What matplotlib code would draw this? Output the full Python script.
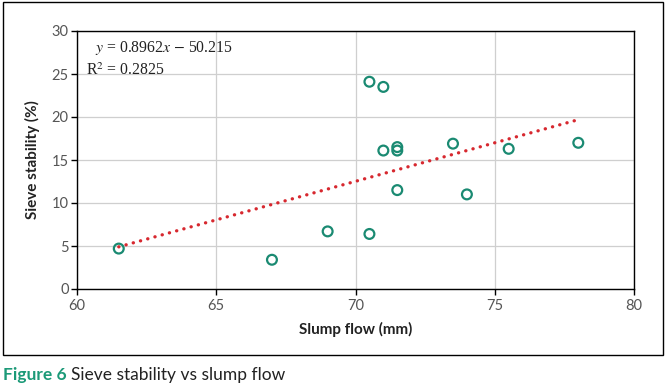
import matplotlib
matplotlib.use('Agg')
import matplotlib.pyplot as plt
import numpy as np
from matplotlib.patches import Rectangle

# data
slump_flow = [61.5, 67.0, 69.0, 70.5, 70.5, 71.0, 71.0, 71.5, 71.5, 71.5, 73.5, 74.0, 75.5, 78.0]
sieve_stab = [4.7, 3.4, 6.7, 6.4, 24.1, 23.5, 16.1, 16.5, 16.1, 11.5, 16.9, 11.0, 16.3, 17.0]
slope = 0.8962
intercept = -50.215
r2 = 0.2825
x_ticks = [60, 65, 70, 75, 80]
y_ticks = [0, 5, 10, 15, 20, 25, 30]

TEAL = '#1a8a72'
RED = '#d7282f'
GRID = '#cfcfcf'
TICK = '#555555'
SANS = ['Lato', 'DejaVu Sans']

plt.rcParams['mathtext.fontset'] = 'stix'

fig = plt.figure(figsize=(6.71, 3.90), dpi=100)

# outer frame round the chart
fig.patches.append(Rectangle((3/671, 1-355/390), 660/671, 353/390,
                             transform=fig.transFigure, fill=False,
                             edgecolor='black', linewidth=1.0))

ax = fig.add_axes([77/671, 1-289/390, 557/671, 258/390])

# trendline (dotted)
xs = np.array([min(slump_flow), max(slump_flow)])
ax.plot(xs, slope*xs + intercept, color=RED, linewidth=2.4,
        linestyle=(0, (0.05, 2.2)), dash_capstyle='round', zorder=3)

ax.scatter(slump_flow, sieve_stab, s=50, facecolors='none',
           edgecolors=TEAL, linewidths=1.6, zorder=4)

ax.set_xlim(60, 80)
ax.set_ylim(0, 30)
ax.set_xticks(x_ticks)
ax.set_yticks(y_ticks)
ax.grid(True, color=GRID, linewidth=0.9)
ax.set_axisbelow(True)
for s in ax.spines.values():
    s.set_color('black')
    s.set_linewidth(1.0)
ax.tick_params(axis='both', direction='out', length=4, width=1.0,
               color='black', labelcolor=TICK, labelsize=10.5)
ax.tick_params(axis='y', pad=2)
for lbl in ax.get_xticklabels() + ax.get_yticklabels():
    lbl.set_family(SANS)

ax.set_xlabel('Slump flow (mm)', fontsize=11, fontweight='bold',
              color='#222222', labelpad=6, family=SANS)
ax.set_ylabel('Sieve stability (%)', fontsize=11, fontweight='bold',
              color='#222222', labelpad=8, family=SANS)

ax.text(0.032, 0.935, r'$y$ = 0.8962$x$ $-$ 50.215', transform=ax.transAxes,
        fontsize=11.3, family='Liberation Serif', va='center', color='#222222')
ax.text(0.017, 0.845, r'R$^2$ = 0.2825', transform=ax.transAxes,
        fontsize=11.3, family='Liberation Serif', va='center', color='#222222')

# caption
t1 = fig.text(3/671, 1-375/390, 'Figure 6', fontsize=12.5, fontweight='bold',
              color='#1c9a78', family=SANS, va='center')
fig.canvas.draw()
bb = t1.get_window_extent()
fig.text((bb.x1 + 4)/fig.bbox.width, 1-375/390, 'Sieve stability vs slump flow',
         fontsize=12.5, color='#222222', family=SANS, va='center')

fig.savefig('out.png', dpi=100)
